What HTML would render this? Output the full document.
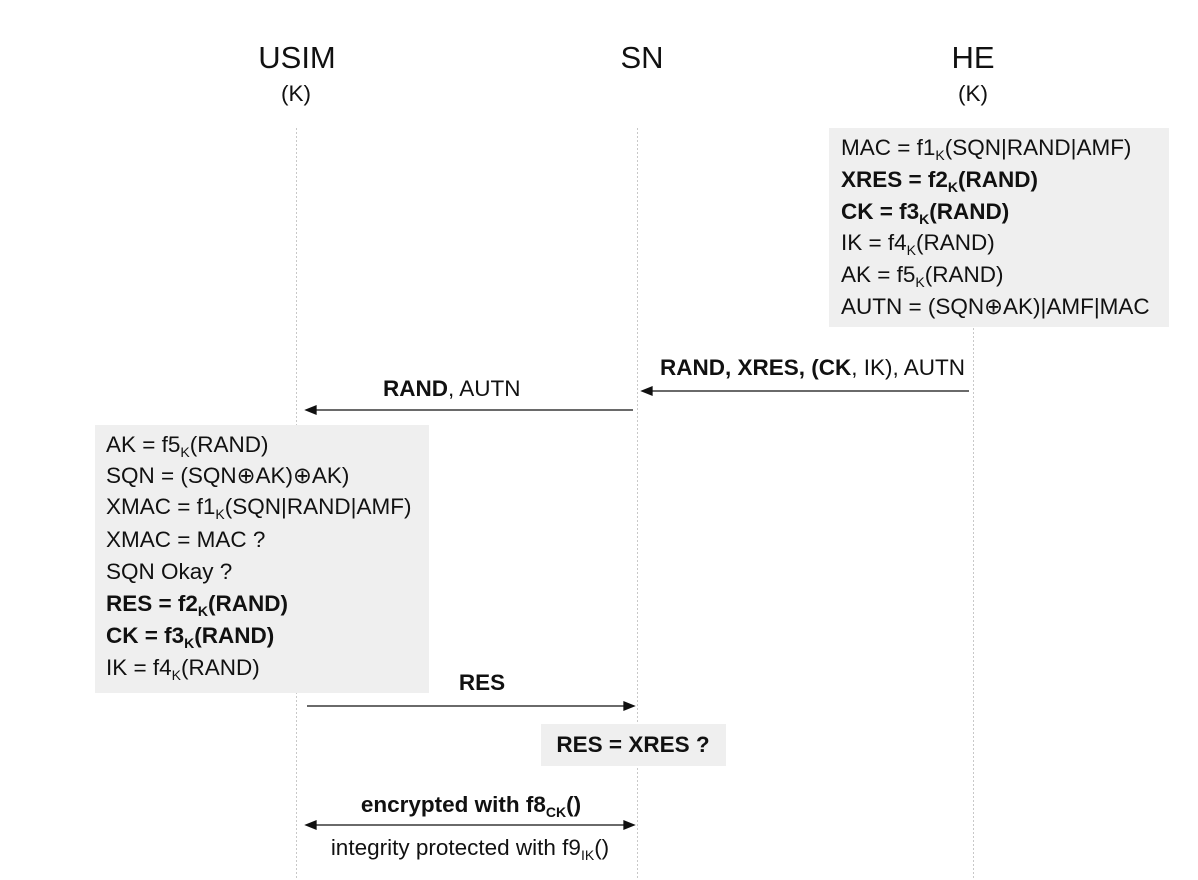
<!DOCTYPE html>
<html><head><meta charset="utf-8"><style>
html,body{margin:0;padding:0;background:#fff;}
body{width:1198px;height:880px;position:relative;overflow:hidden;font-family:"Liberation Sans",Arial,sans-serif;color:#111;}
.t{position:absolute;white-space:nowrap;font-size:22.5px;line-height:24px;}
.c{transform:translateX(-50%);}
.box{position:absolute;background:#efefef;}
sub{font-size:14px;vertical-align:-5px;line-height:0;}
b{font-weight:bold;}
</style></head><body>
<svg width="1198" height="880" style="position:absolute;left:0;top:0">
<g stroke="#c8c8c8" stroke-width="1" stroke-dasharray="2,2">
<line x1="296.5" y1="128" x2="296.5" y2="880"/>
<line x1="637.5" y1="128" x2="637.5" y2="880"/>
<line x1="973.5" y1="128" x2="973.5" y2="880"/>
</g>
</svg>
<div class="box" style="left:829px;top:128px;width:340px;height:199px"></div>
<div class="box" style="left:95px;top:425px;width:334px;height:268px"></div>
<div class="box" style="left:541px;top:724px;width:185px;height:42px"></div>
<svg width="1198" height="880" style="position:absolute;left:0;top:0">
<g stroke="#111" stroke-width="1.3" fill="#111">
<line x1="650" y1="391" x2="969" y2="391"/><polygon points="642,391 652,387 652,395"/>
<line x1="315" y1="410" x2="633" y2="410"/><polygon points="306,410 316,406 316,414"/>
<line x1="307" y1="706" x2="625" y2="706"/><polygon points="634,706 624,702 624,710"/>
<line x1="315" y1="825" x2="625" y2="825"/><polygon points="306,825 316,821 316,829"/><polygon points="634,825 624,821 624,829"/>
</g>
</svg>
<div class="t c" style="left:297px;top:41px;font-size:31px;line-height:34px">USIM</div>
<div class="t c" style="left:296px;top:82px">(K)</div>
<div class="t c" style="left:642px;top:41px;font-size:31px;line-height:34px">SN</div>
<div class="t c" style="left:973px;top:41px;font-size:31px;line-height:34px">HE</div>
<div class="t c" style="left:973px;top:82px">(K)</div>

<div class="t" style="left:841px;top:136px">MAC = f1<sub>K</sub>(SQN|RAND|AMF)</div>
<div class="t" style="left:841px;top:168px"><b>XRES = f2<sub>K</sub>(RAND)</b></div>
<div class="t" style="left:841px;top:200px"><b>CK = f3<sub>K</sub>(RAND)</b></div>
<div class="t" style="left:841px;top:231px">IK = f4<sub>K</sub>(RAND)</div>
<div class="t" style="left:841px;top:263px">AK = f5<sub>K</sub>(RAND)</div>
<div class="t" style="left:841px;top:295px">AUTN = (SQN⊕AK)|AMF|MAC</div>

<div class="t" style="left:660px;top:356px"><b>RAND, XRES, (CK</b>, IK), AUTN</div>
<div class="t" style="left:383px;top:377px"><b>RAND</b>, AUTN</div>

<div class="t" style="left:106px;top:433px">AK = f5<sub>K</sub>(RAND)</div>
<div class="t" style="left:106px;top:464px">SQN = (SQN⊕AK)⊕AK)</div>
<div class="t" style="left:106px;top:495px">XMAC = f1<sub>K</sub>(SQN|RAND|AMF)</div>
<div class="t" style="left:106px;top:528px">XMAC = MAC ?</div>
<div class="t" style="left:106px;top:560px">SQN Okay ?</div>
<div class="t" style="left:106px;top:592px"><b>RES = f2<sub>K</sub>(RAND)</b></div>
<div class="t" style="left:106px;top:624px"><b>CK = f3<sub>K</sub>(RAND)</b></div>
<div class="t" style="left:106px;top:656px">IK = f4<sub>K</sub>(RAND)</div>

<div class="t c" style="left:482px;top:671px"><b>RES</b></div>
<div class="t c" style="left:633px;top:733px"><b>RES = XRES ?</b></div>
<div class="t c" style="left:471px;top:793px;font-size:22.5px"><b>encrypted with f8<sub>CK</sub>()</b></div>
<div class="t c" style="left:470px;top:836px;font-size:22.5px">integrity protected with f9<sub>IK</sub>()</div>
</body></html>
